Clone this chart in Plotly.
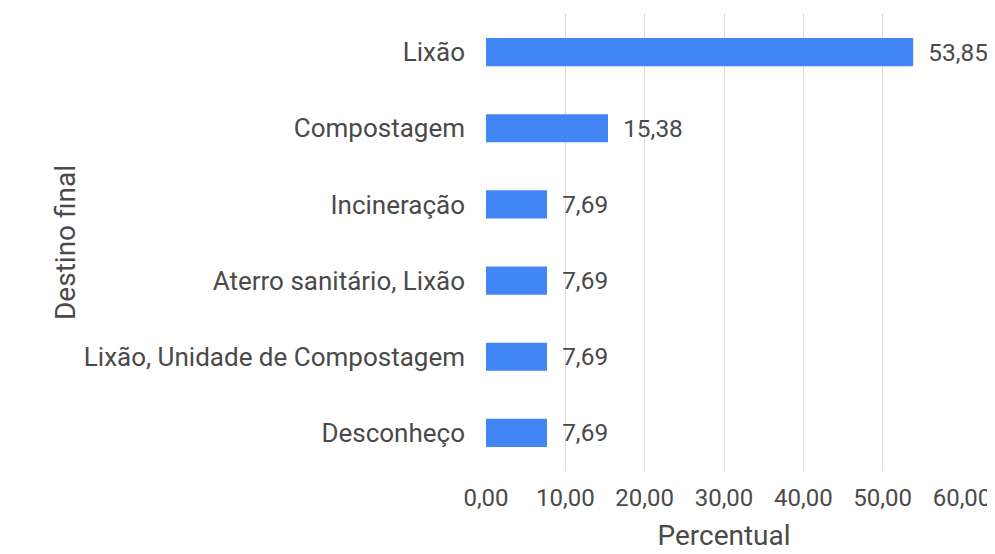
import plotly.graph_objects as go

# ── Data ───────────────────────────────────────────────────────────────────────
categories = [
    "Lixão",
    "Compostagem",
    "Incineração",
    "Aterro sanitário, Lixão",
    "Lixão, Unidade de Compostagem",
    "Desconheço",
]
percentages = [53.85, 15.38, 7.69, 7.69, 7.69, 7.69]
x_ticks = [0, 10, 20, 30, 40, 50, 60]

BAR_COLOR = "#4285F4"
FONT_COLOR = "#4A4A4A"
GRID_COLOR = "#DDDDDD"
FONT_FAMILY = "Roboto, Arial, sans-serif"
FONT_SIZE = 25
TITLE_SIZE = 28

fig = go.Figure(
    go.Bar(
        x=percentages,
        y=categories,
        orientation="h",
        width=0.37,
        marker_color=BAR_COLOR,
        marker_line_width=0,
        texttemplate="  %{x:.2f}",
        textposition="outside",
        textfont=dict(size=26, color=FONT_COLOR),
        cliponaxis=False,
    )
)

# page body adds an 8px offset, so margins are shifted accordingly
fig.update_layout(
    width=995,
    height=554,
    paper_bgcolor="#FFFFFF",
    plot_bgcolor="#FFFFFF",
    separators=",.",
    font=dict(family=FONT_FAMILY, color=FONT_COLOR, size=FONT_SIZE),
    margin=dict(l=478, r=41, t=6, b=91),
    showlegend=False,
)

fig.update_xaxes(
    range=[0, 60],
    tickvals=x_ticks,
    tickformat=".2f",
    tickfont=dict(size=24),
    showgrid=True,
    gridcolor=GRID_COLOR,
    gridwidth=1,
    zeroline=False,
    showline=False,
    automargin=False,
    ticklabelstandoff=10,
    title=dict(text="Percentual", standoff=14, font=dict(size=TITLE_SIZE)),
)

fig.update_yaxes(
    autorange="reversed",
    tickfont=dict(size=26),
    showgrid=False,
    showline=False,
    automargin=False,
    ticklabelstandoff=20,
    title=dict(text="Destino final", standoff=0, font=dict(size=TITLE_SIZE)),
)

fig.write_html("out.html")
